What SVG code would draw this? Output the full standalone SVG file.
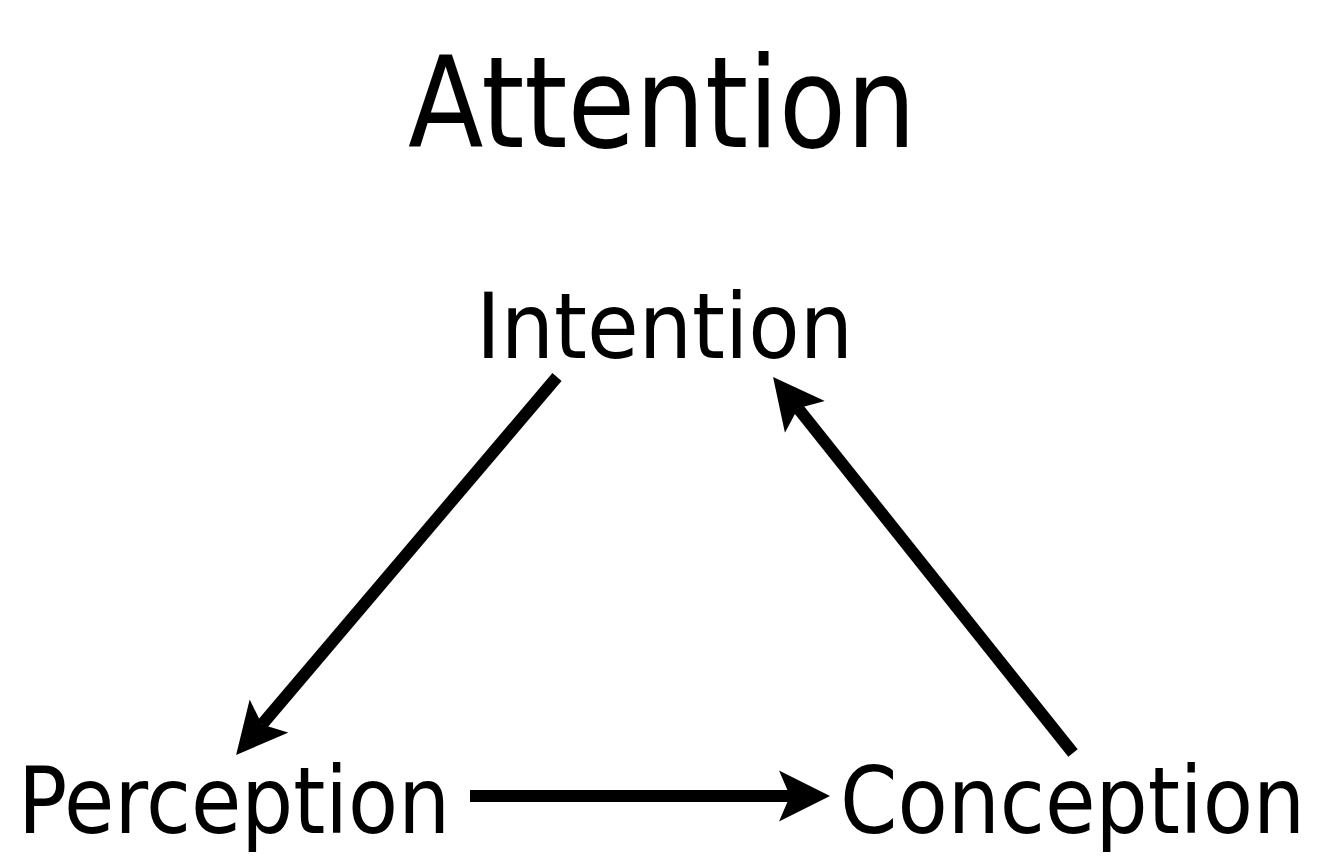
<svg xmlns="http://www.w3.org/2000/svg" width="1320" height="868" viewBox="0 0 1320 868">
<style>
text{font-family:"DejaVu Sans Condensed","DejaVu Sans","Liberation Sans",sans-serif;fill:#000}
.conn{stroke:#000;stroke-width:12;fill:none;marker-end:url(#ah)}
</style>
<defs>
<marker id="ah" viewBox="0 0 52 52" refX="11" refY="26" markerWidth="52" markerHeight="52" markerUnits="userSpaceOnUse" orient="auto">
<path d="M51,26 L0,0.5 L11,26 L0,51.5 Z" fill="#000"/>
</marker>
</defs>
<rect width="1320" height="868" fill="#fff"/>
<g id="title"><text x="408" y="147" font-size="126" textLength="508" lengthAdjust="spacingAndGlyphs">Attention</text></g>
<g id="intention"><text x="476" y="358" font-size="91" textLength="377" lengthAdjust="spacingAndGlyphs">Intention</text></g>
<g id="perception"><text x="18" y="833" font-size="93" textLength="432" lengthAdjust="spacingAndGlyphs">Perception</text></g>
<g id="conception"><text x="840" y="833" font-size="93" textLength="465" lengthAdjust="spacingAndGlyphs">Conception</text></g>
<g id="connectors">
<line class="conn" x1="557" y1="377" x2="262" y2="724.5"/>
<line class="conn" x1="1073" y1="753" x2="798" y2="408.3"/>
<line class="conn" x1="470" y1="796" x2="790" y2="796"/>
</g>
</svg>
